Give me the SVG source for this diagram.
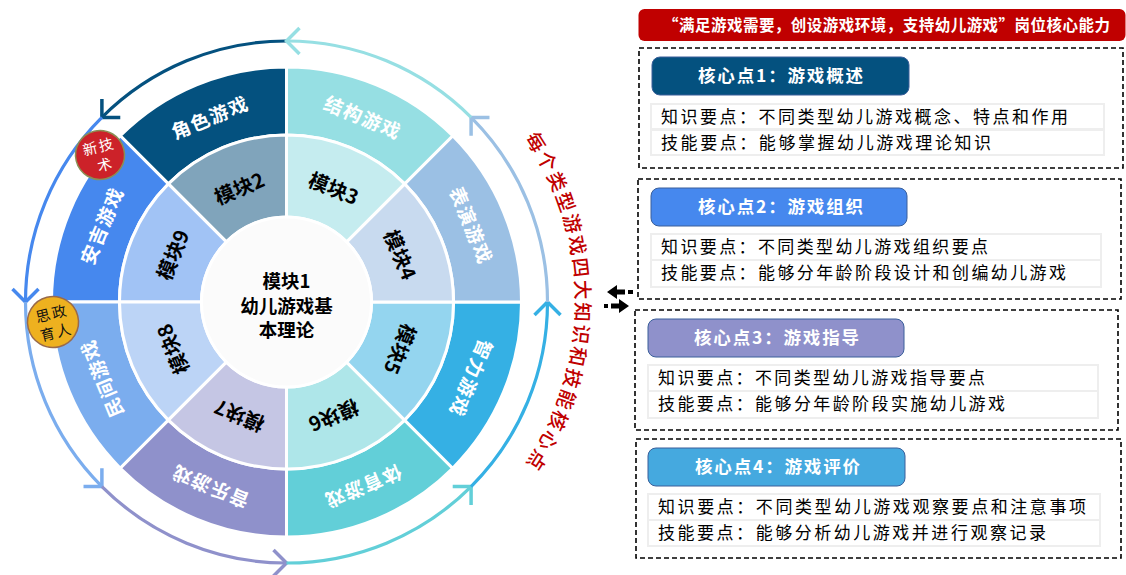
<svg xmlns="http://www.w3.org/2000/svg" width="1126" height="575" viewBox="0 0 1126 575">
<style>
text{font-family:"Noto Sans CJK SC","Liberation Sans",sans-serif}
.seg{stroke:#fff;stroke-width:3}
.o{font-size:19px;font-weight:700;fill:#fff;text-anchor:middle;dominant-baseline:central;letter-spacing:1.5px}
.m{font-size:20px;font-weight:700;fill:#000;text-anchor:middle;dominant-baseline:central}
.c{font-size:18.5px;font-weight:700;fill:#000;text-anchor:middle}
.arc{fill:none;stroke-width:3.2}
.dash{fill:#fff;stroke:#000;stroke-width:1.6;stroke-dasharray:5 3}
.ttl{stroke:#3a5f9a;stroke-width:1}
.tt{font-size:17.5px;font-weight:700;fill:#fff}
.row{fill:#fff;stroke:#eee;stroke-width:2}
.rt{font-size:17px;fill:#000}
</style>
<defs>
<marker id="a1" markerUnits="userSpaceOnUse" markerWidth="30" markerHeight="30" orient="auto" overflow="visible"><path d="M-13,-13L0,0L-13,13" fill="none" stroke="#04517f" stroke-width="3.5"/></marker>
<marker id="a2" markerUnits="userSpaceOnUse" markerWidth="30" markerHeight="30" orient="auto" overflow="visible"><path d="M-13,-13L0,0L-13,13" fill="none" stroke="#4688ee" stroke-width="3.5"/></marker>
<marker id="a3" markerUnits="userSpaceOnUse" markerWidth="30" markerHeight="30" orient="auto" overflow="visible"><path d="M-13,-13L0,0L-13,13" fill="none" stroke="#7badee" stroke-width="3.5"/></marker>
<marker id="a4" markerUnits="userSpaceOnUse" markerWidth="30" markerHeight="30" orient="auto" overflow="visible"><path d="M-13,-13L0,0L-13,13" fill="none" stroke="#8f91cb" stroke-width="3.5"/></marker>
<marker id="a5" markerUnits="userSpaceOnUse" markerWidth="30" markerHeight="30" orient="auto" overflow="visible"><path d="M-13,-13L0,0L-13,13" fill="none" stroke="#62cfd8" stroke-width="3.5"/></marker>
<marker id="a6" markerUnits="userSpaceOnUse" markerWidth="30" markerHeight="30" orient="auto" overflow="visible"><path d="M-13,-13L0,0L-13,13" fill="none" stroke="#35b0e4" stroke-width="3.5"/></marker>
<marker id="a7" markerUnits="userSpaceOnUse" markerWidth="30" markerHeight="30" orient="auto" overflow="visible"><path d="M-13,-13L0,0L-13,13" fill="none" stroke="#9bc0e4" stroke-width="3.5"/></marker>
<marker id="a8" markerUnits="userSpaceOnUse" markerWidth="30" markerHeight="30" orient="auto" overflow="visible"><path d="M-13,-13L0,0L-13,13" fill="none" stroke="#96dfe3" stroke-width="3.5"/></marker>
<path id="rp" d="M221.4,-185.8A289,289 0 0 1 221.4,185.8"/>
</defs>
<rect width="1126" height="575" fill="#fff"/>
<g transform="translate(286.5,302)">
<g id="connectors">
<path class="arc" stroke="#04517f" marker-end="url(#a1)" d="M0,-261A261,261 0 0 0 -184.6,-184.6"/>
<path class="arc" stroke="#4688ee" marker-end="url(#a2)" d="M-184.6,-184.6A261,261 0 0 0 -261,0"/>
<path class="arc" stroke="#7badee" marker-end="url(#a3)" d="M-261,0A261,261 0 0 0 -184.6,184.6"/>
<path class="arc" stroke="#8f91cb" marker-end="url(#a4)" d="M-184.6,184.6A261,261 0 0 0 0,261"/>
<path class="arc" stroke="#62cfd8" marker-end="url(#a5)" d="M0,261A261,261 0 0 0 184.6,184.6"/>
<path class="arc" stroke="#35b0e4" marker-end="url(#a6)" d="M184.6,184.6A261,261 0 0 0 261,0"/>
<path class="arc" stroke="#9bc0e4" marker-end="url(#a7)" d="M261,0A261,261 0 0 0 184.6,-184.6"/>
<path class="arc" stroke="#96dfe3" marker-end="url(#a8)" d="M184.6,-184.6A261,261 0 0 0 0,-261"/>
</g>
<g id="ring-role"><path class="seg" fill="#04517f" d="M0,-235A235,235 0 0 0 -166.2,-166.2L-118.1,-118.1A167,167 0 0 1 0,-167Z"/><text class="o" transform="rotate(-22.5) translate(0,-201)">角色游戏</text></g>
<g id="ring-anji"><path class="seg" fill="#4688ee" d="M-166.2,-166.2A235,235 0 0 0 -235,0L-167,0A167,167 0 0 1 -118.1,-118.1Z"/><text class="o" transform="rotate(-67.5) translate(0,-201)">安吉游戏</text></g>
<g id="ring-folk"><path class="seg" fill="#7badee" d="M-235,0A235,235 0 0 0 -166.2,166.2L-118.1,118.1A167,167 0 0 1 -167,0Z"/><text class="o" transform="rotate(-112.5) translate(0,-201)">民间游戏</text></g>
<g id="ring-music"><path class="seg" fill="#8f91cb" d="M-166.2,166.2A235,235 0 0 0 0,235L0,167A167,167 0 0 1 -118.1,118.1Z"/><text class="o" transform="rotate(-157.5) translate(0,-201)">音乐游戏</text></g>
<g id="ring-sport"><path class="seg" fill="#62cfd8" d="M0,235A235,235 0 0 0 166.2,166.2L118.1,118.1A167,167 0 0 1 0,167Z"/><text class="o" transform="rotate(157.5) translate(0,-201)">体育游戏</text></g>
<g id="ring-intel"><path class="seg" fill="#35b0e4" d="M166.2,166.2A235,235 0 0 0 235,0L167,0A167,167 0 0 1 118.1,118.1Z"/><text class="o" transform="rotate(112.5) translate(0,-201)">智力游戏</text></g>
<g id="ring-show"><path class="seg" fill="#9bc0e4" d="M235,0A235,235 0 0 0 166.2,-166.2L118.1,-118.1A167,167 0 0 1 167,0Z"/><text class="o" transform="rotate(67.5) translate(0,-201)">表演游戏</text></g>
<g id="ring-build"><path class="seg" fill="#96dfe3" d="M166.2,-166.2A235,235 0 0 0 0,-235L0,-167A167,167 0 0 1 118.1,-118.1Z"/><text class="o" transform="rotate(22.5) translate(0,-201)">结构游戏</text></g>
<g id="module2"><path class="seg" fill="#80a4bb" d="M0,-167A167,167 0 0 0 -118.1,-118.1L-60.1,-60.1A85,85 0 0 1 0,-85Z"/><text class="m" transform="rotate(-22.5) translate(0,-124)">模块2</text></g>
<g id="module9"><path class="seg" fill="#a1c3f5" d="M-118.1,-118.1A167,167 0 0 0 -167,0L-85,0A85,85 0 0 1 -60.1,-60.1Z"/><text class="m" transform="rotate(-67.5) translate(0,-124)">模块9</text></g>
<g id="module8"><path class="seg" fill="#bcd4f6" d="M-167,0A167,167 0 0 0 -118.1,118.1L-60.1,60.1A85,85 0 0 1 -85,0Z"/><text class="m" transform="rotate(-112.5) translate(0,-124)">模块8</text></g>
<g id="module7"><path class="seg" fill="#c5c6e4" d="M-118.1,118.1A167,167 0 0 0 0,167L0,85A85,85 0 0 1 -60.1,60.1Z"/><text class="m" transform="rotate(-157.5) translate(0,-124)">模块7</text></g>
<g id="module6"><path class="seg" fill="#aee6e9" d="M0,167A167,167 0 0 0 118.1,118.1L60.1,60.1A85,85 0 0 1 0,85Z"/><text class="m" transform="rotate(157.5) translate(0,-124)">模块6</text></g>
<g id="module5"><path class="seg" fill="#94d5ef" d="M118.1,118.1A167,167 0 0 0 167,0L85,0A85,85 0 0 1 60.1,60.1Z"/><text class="m" transform="rotate(112.5) translate(0,-124)">模块5</text></g>
<g id="module4"><path class="seg" fill="#c8daef" d="M167,0A167,167 0 0 0 118.1,-118.1L60.1,-60.1A85,85 0 0 1 85,0Z"/><text class="m" transform="rotate(67.5) translate(0,-124)">模块4</text></g>
<g id="module3"><path class="seg" fill="#c5ecef" d="M118.1,-118.1A167,167 0 0 0 0,-167L0,-85A85,85 0 0 1 60.1,-60.1Z"/><text class="m" transform="rotate(22.5) translate(0,-124)">模块3</text></g>
<g id="module1"><circle r="85" fill="#fbfbfb" stroke="#fff" stroke-width="3"/>
<text class="c" y="-14.500">模块1</text><text class="c" y="10.500">幼儿游戏基</text><text class="c" y="34.500">本理论</text></g>
<text font-size="19.500" font-weight="500" fill="#c00000" text-anchor="middle" letter-spacing="2.300"><textPath href="#rp" startOffset="50%">每个类型游戏四大知识和技能核心点</textPath></text>
</g>
<g id="badge-tech" transform="translate(100,155) rotate(-14)"><circle r="24.500" fill="#cc2229" stroke="#8a8f55" stroke-width="1.500"/><text x="1" y="-3" font-size="14.500" fill="#fff" text-anchor="middle" letter-spacing="2">新技</text><text x="2" y="16" font-size="14.500" fill="#fff" text-anchor="middle">术</text></g>
<g id="badge-edu" transform="translate(53,322) rotate(-14)"><circle r="25.500" fill="#eeb11f" stroke="#9a6a4a" stroke-width="1.500"/><text x="1" y="-3" font-size="14.500" fill="#111" text-anchor="middle" letter-spacing="2">思政</text><text x="1" y="16" font-size="14.500" fill="#111" text-anchor="middle" letter-spacing="2">育人</text></g>
<g id="header"><rect x="638.500" y="9" width="487" height="32" rx="6" fill="#c00000"/><text x="663" y="31" font-size="15.500" font-weight="700" fill="#fff" textLength="447">“满足游戏需要，创设游戏环境，支持幼儿游戏”岗位核心能力</text></g>
<g id="core1"><rect class="dash" x="639" y="48" width="484" height="120"/><rect class="ttl" x="652" y="57" width="257" height="38" rx="8" fill="#04517f"/><text class="tt" x="698" y="82" textLength="165">核心点1：游戏概述</text>
<rect class="row" x="651" y="104" width="453" height="25"/><rect class="row" x="651" y="130" width="453" height="25"/>
<text class="rt" x="661" y="123" textLength="407">知识要点：不同类型幼儿游戏概念、特点和作用</text><text class="rt" x="661" y="149" textLength="330">技能要点：能够掌握幼儿游戏理论知识</text></g>
<g id="core2"><rect class="dash" x="638" y="179" width="483" height="120"/><rect class="ttl" x="651" y="188" width="256" height="38" rx="8" fill="#4688ee"/><text class="tt" x="698" y="213" textLength="165">核心点2：游戏组织</text>
<rect class="row" x="651" y="234" width="450" height="26"/><rect class="row" x="651" y="260" width="450" height="27"/>
<text class="rt" x="661" y="253" textLength="327">知识要点：不同类型幼儿游戏组织要点</text><text class="rt" x="661" y="279" textLength="405">技能要点：能够分年龄阶段设计和创编幼儿游戏</text></g>
<g id="core3"><rect class="dash" x="635" y="310" width="483" height="120"/><rect class="ttl" x="648" y="319" width="256" height="38" rx="8" fill="#8f91cb"/><text class="tt" x="694" y="344" textLength="165">核心点3：游戏指导</text>
<rect class="row" x="648" y="365" width="450" height="26"/><rect class="row" x="648" y="391" width="450" height="27"/>
<text class="rt" x="658" y="384" textLength="327">知识要点：不同类型幼儿游戏指导要点</text><text class="rt" x="658" y="410" textLength="347">技能要点：能够分年龄阶段实施幼儿游戏</text></g>
<g id="core4"><rect class="dash" x="636" y="439" width="485" height="119"/><rect class="ttl" x="648" y="448" width="257" height="38" rx="8" fill="#45a9df"/><text class="tt" x="695" y="473" textLength="165">核心点4：游戏评价</text>
<rect class="row" x="648" y="494" width="452" height="26"/><rect class="row" x="648" y="520" width="452" height="26"/>
<text class="rt" x="658" y="513" textLength="428">知识要点：不同类型幼儿游戏观察要点和注意事项</text><text class="rt" x="658" y="539" textLength="388">技能要点：能够分析幼儿游戏并进行观察记录</text></g>
<g id="exchange-icon" fill="#000"><path d="M607,292L617,285V289.500H625V294.500H617V299Z"/><rect x="628" y="290" width="5" height="4"/><path d="M629,306L619,299V303.500H611V308.500H619V313Z"/><rect x="604" y="304" width="4" height="4"/></g>
</svg>
